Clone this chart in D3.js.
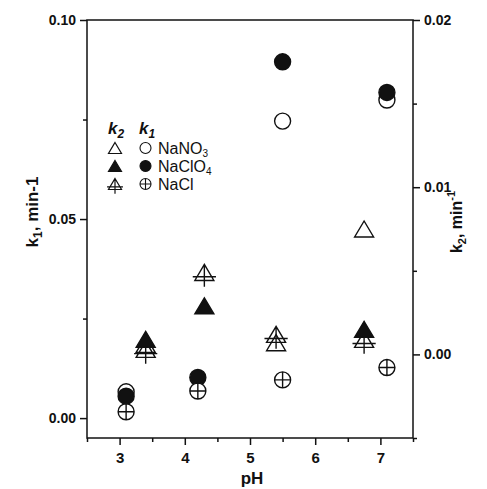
<!DOCTYPE html>
<html><head><meta charset="utf-8">
<script src="https://cdn.jsdelivr.net/npm/d3@7"></script>
<style>
body{margin:0;background:#fff;}
text{font-family:"Liberation Sans",Arial,sans-serif;fill:#111;}
</style></head>
<body><svg id="c" width="487" height="489"></svg>
<script>
// ---- data ----
const pH_k1 = [3.1, 4.2, 5.5, 7.1];
const pH_k2 = [3.4, 4.3, 5.4, 6.75];
// k1 (left axis, circles)
const k1_NaNO3  = [0.0066, null, 0.0746, 0.0799];
const k1_NaClO4 = [0.0055, 0.0102, 0.0895, 0.0818];
const k1_NaCl   = [0.0016, 0.0068, 0.0096, 0.0127];
// k2 (right axis, triangles)
const k2_NaNO3  = [0.0006, null, 0.0007, 0.0075];
const k2_NaClO4 = [0.0009, 0.0029, null, 0.0015];
const k2_NaCl   = [0.0003, 0.0049, 0.0012, 0.0009];
const xMajor = [3, 4, 5, 6, 7];
const xMinor = [2.5, 3.5, 4.5, 5.5, 6.5, 7.5];
const yLMajor = [0, 0.05, 0.10];
const yLMinor = [0.025, 0.075];
const yRMajor = [0, 0.01, 0.02];
const yRMinor = [-0.005, 0.005, 0.015];
const salts = ["NaNO3", "NaClO4", "NaCl"];

// ---- layout ----
const svg = d3.select("#c");
const L = 87, R = 413, T = 20, B = 438;
const x = d3.scaleLinear().domain([2.5, 7.5]).range([L, R]);
const yL = d3.scaleLinear().domain([-0.005, 0.10]).range([B, T]);
const yR = d3.scaleLinear().domain([-0.005, 0.02]).range([B, T]);
const sw = 1.5;

function styleAxis(g){
  g.select(".domain").remove();
  g.selectAll("line").attr("stroke","#111").attr("stroke-width",sw);
  g.selectAll("text").style("font-size","14px").style("font-weight","bold")
   .style("font-family",'"Liberation Sans",Arial,sans-serif').attr("fill","#111");
}
// bottom
svg.append("g").attr("transform",`translate(0,${B})`)
  .call(d3.axisBottom(x).tickValues(xMajor).tickSize(7).tickPadding(7).tickFormat(d3.format("d")))
  .call(styleAxis).selectAll("text").style("font-size","15px");
svg.append("g").attr("transform",`translate(0,${B})`)
  .call(d3.axisBottom(x).tickValues(xMinor).tickSize(4).tickFormat(""))
  .call(styleAxis);
// left
svg.append("g").attr("transform",`translate(${L},0)`)
  .call(d3.axisLeft(yL).tickValues(yLMajor).tickSize(7).tickPadding(4).tickFormat(d3.format(".2f")))
  .call(styleAxis);
svg.append("g").attr("transform",`translate(${L},0)`)
  .call(d3.axisLeft(yL).tickValues(yLMinor).tickSize(4).tickFormat(""))
  .call(styleAxis);
// right
svg.append("g").attr("transform",`translate(${R},0)`)
  .call(d3.axisRight(yR).tickValues(yRMajor).tickSize(7).tickPadding(4).tickFormat(d3.format(".2f")))
  .call(styleAxis);
svg.append("g").attr("transform",`translate(${R},0)`)
  .call(d3.axisRight(yR).tickValues(yRMinor).tickSize(4).tickFormat(""))
  .call(styleAxis);
// frame
svg.append("rect").attr("x",L).attr("y",T).attr("width",R-L).attr("height",B-T)
  .attr("fill","none").attr("stroke","#111").attr("stroke-width",sw);

// ---- symbols ----
function triPath(cx,cy,hw,h){ return `M${cx},${cy-h/2}L${cx+hw},${cy+h/2}L${cx-hw},${cy+h/2}Z`; }
function crossTriPath(cx,cy,hw,h){
  const k = hw/9;
  return triPath(cx,cy,hw,h)+`M${cx-11*k},${cy+4*k}H${cx+11*k}M${cx},${cy-h/2}V${cy+h/2+6*k}`;
}
function circPath(cx,cy,r){ return `M${cx-r},${cy}A${r},${r} 0 1,0 ${cx+r},${cy}A${r},${r} 0 1,0 ${cx-r},${cy}Z`; }
function crossCircPath(cx,cy,r){ return circPath(cx,cy,r)+`M${cx-r},${cy}H${cx+r}M${cx},${cy-r}V${cy+r}`; }

function drawSet(xs, vals, yScale, kind){
  const pts = xs.map((p,i)=>({p, v: vals[i]})).filter(d=>d.v!=null);
  svg.append("g").selectAll("path").data(pts).join("path")
    .attr("d", d=>{
      const cx = x(d.p), cy = yScale(d.v);
      if(kind==="tri"||kind==="triF") return triPath(cx,cy,9.5,16);
      if(kind==="triX") return crossTriPath(cx,cy,9.5,16);
      if(kind==="circ"||kind==="circF") return circPath(cx,cy,8);
      return crossCircPath(cx,cy,8);
    })
    .attr("fill", (kind==="triF"||kind==="circF") ? "#111" : (kind==="triX" ? "none" : "#fff"))
    .attr("stroke","#111").attr("stroke-width",1.4);
}
drawSet(pH_k2, k2_NaNO3, yR, "tri");
drawSet(pH_k2, k2_NaCl, yR, "triX");
drawSet(pH_k2, k2_NaClO4, yR, "triF");
drawSet(pH_k1, k1_NaNO3, yL, "circ");
drawSet(pH_k1, k1_NaClO4, yL, "circF");
drawSet(pH_k1, k1_NaCl, yL, "circX");

// ---- legend ----
const lg = svg.append("g");
const hdr = lg.append("text").attr("x",108).attr("y",134)
  .style("font-size","17px").style("font-weight","bold").style("font-style","italic");
hdr.append("tspan").text("k");
hdr.append("tspan").attr("dy",4).style("font-size","12px").text("2");
const hdr2 = lg.append("text").attr("x",139).attr("y",134)
  .style("font-size","17px").style("font-weight","bold").style("font-style","italic");
hdr2.append("tspan").text("k");
hdr2.append("tspan").attr("dy",4).style("font-size","12px").text("1");
const rowY = [148, 166, 184];
const kinds = [["tri","circ"],["triF","circF"],["triX","circX"]];
const labels = [["NaNO","3"],["NaClO","4"],["NaCl",""]];
rowY.forEach((ry,i)=>{
  const [tk, ck] = kinds[i];
  const tp = tk==="triX" ? crossTriPath(115,ry,6.5,11) : triPath(115,ry,6.5,11);
  lg.append("path").attr("d",tp).attr("fill", tk==="triF"?"#111":"none").attr("stroke","#111").attr("stroke-width",1.2);
  const cp = ck==="circX" ? crossCircPath(145.5,ry,5.5) : circPath(145.5,ry,5.5);
  lg.append("path").attr("d",cp).attr("fill", ck==="circF"?"#111":"none").attr("stroke","#111").attr("stroke-width",1.1);
  const t = lg.append("text").attr("x",158).attr("y",ry+6).style("font-size","16px");
  t.append("tspan").text(labels[i][0]);
  if(labels[i][1]) t.append("tspan").attr("dy",3).style("font-size","10px").text(labels[i][1]);
});

// ---- axis titles ----
svg.append("text").attr("x",252).attr("y",484).attr("text-anchor","middle")
  .style("font-size","17px").style("font-weight","bold").text("pH");
const lt = svg.append("text").attr("transform","translate(38,212) rotate(-90)").attr("text-anchor","middle")
  .style("font-size","17px").style("font-weight","bold");
lt.append("tspan").text("k");
lt.append("tspan").attr("dy",4).style("font-size","12px").text("1");
lt.append("tspan").attr("dy",-4).text(", min-1");
const rt = svg.append("text").attr("transform","translate(462,222) rotate(-90)").attr("text-anchor","middle")
  .style("font-size","16px").style("font-weight","bold");
rt.append("tspan").text("k");
rt.append("tspan").attr("dy",4).style("font-size","11px").text("2");
rt.append("tspan").attr("dy",-4).text(", min");
rt.append("tspan").attr("dy",-7).style("font-size","11px").text("-1");
</script></body></html>
